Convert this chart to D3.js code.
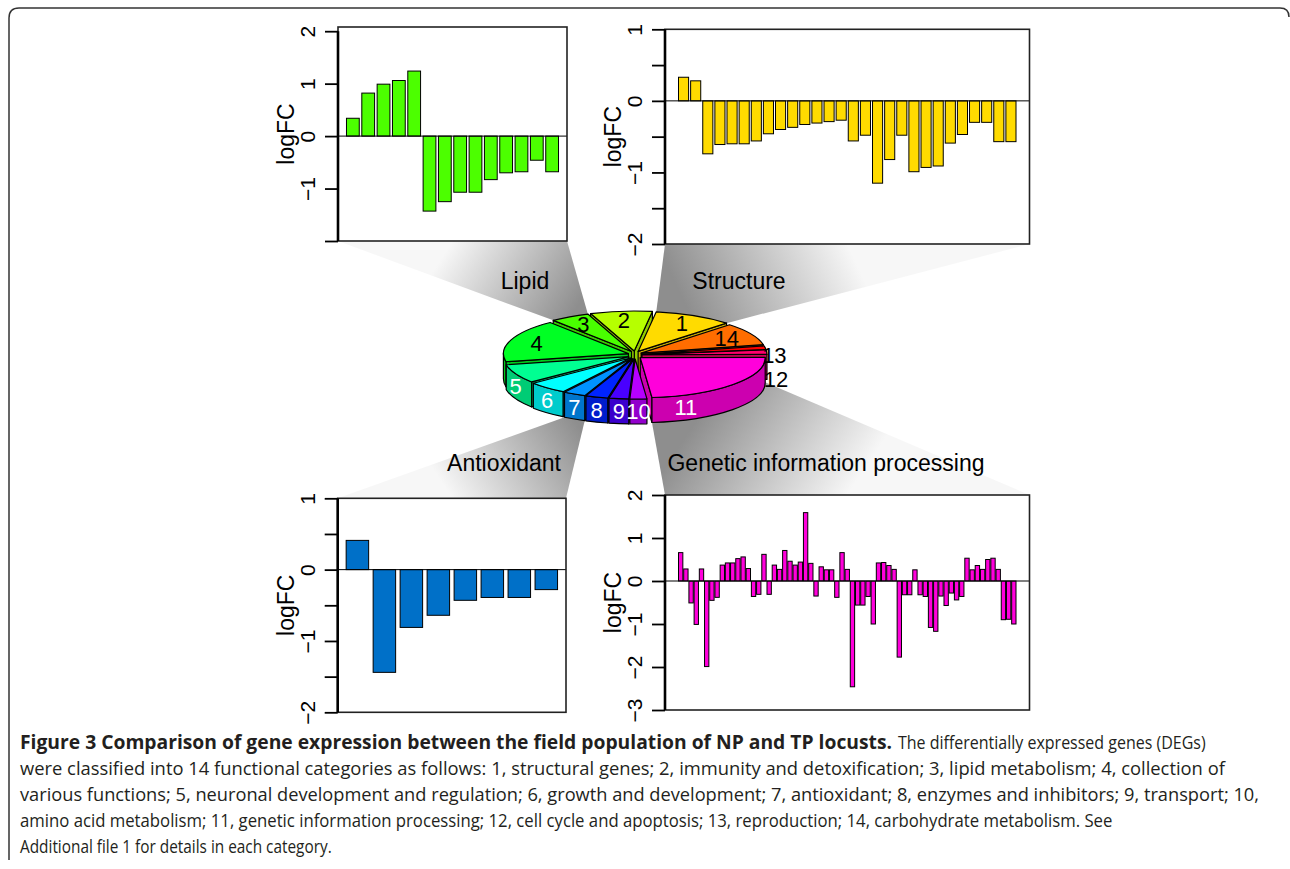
<!DOCTYPE html>
<html>
<head>
<meta charset="utf-8">
<script src="https://cdn.jsdelivr.net/npm/d3@7"></script>
<style>
  body { margin: 0; background: #fff; }
  svg text { font-family: "Liberation Sans", Arial, Helvetica, sans-serif; }
  svg text.cap { font-family: "Open Sans", "Liberation Sans", sans-serif; }
</style>
</head>
<body>
<svg id="fig" width="1290" height="869"></svg>
<script>
// logFC of the DEGs in each highlighted category
const lipidLogFC = [0.34, 0.82, 0.99, 1.06, 1.24, -1.43, -1.25, -1.07, -1.07, -0.83, -0.70, -0.68, -0.46, -0.68];
const structureLogFC = [0.33, 0.28, -0.74, -0.61, -0.60, -0.60, -0.56, -0.46, -0.40, -0.37, -0.33, -0.31, -0.29, -0.27,
  -0.56, -0.48, -1.15, -0.82, -0.48, -0.99, -0.93, -0.91, -0.59, -0.47, -0.30, -0.30, -0.57, -0.57];
const antioxidantLogFC = [0.41, -1.44, -0.81, -0.64, -0.43, -0.39, -0.39, -0.28];
const geneticLogFC = [0.66, 0.28, -0.51, -1.01, 0.28, -1.99, -0.45, -0.38, 0.37, 0.42,
  0.42, 0.52, 0.56, 0.29, -0.36, -0.31, 0.62, -0.31, 0.37, 0.27,
  0.71, 0.46, 0.37, 0.44, 1.59, 0.41, -0.35, 0.33, 0.26, 0.26,
  -0.38, 0.66, 0.27, -2.46, -0.56, -0.56, -0.36, -1.00, 0.42, 0.43,
  0.36, 0.27, -1.77, -0.32, -0.32, 0.26, -0.32, -0.36, -1.08, -1.17,
  -0.35, -0.57, -0.28, -0.44, -0.36, 0.53, 0.26, 0.36, 0.27, 0.50,
  0.53, 0.27, -0.90, -0.89, -1.00];

// pie: 14 functional categories
const categories = ["1", "2", "3", "4", "5", "6", "7", "8", "9", "10", "11", "12", "13", "14"];
const categoryCounts = [28, 22, 14, 48, 21, 14, 8, 8, 7, 6, 65, 5, 4, 25];
const categoryColors = ["#FFDB00", "#B6FF00", "#49FF00", "#00FF24", "#00FF92", "#00FFFF", "#0092FF",
  "#0024FF", "#4900FF", "#B600FF", "#FF00DB", "#FF006D", "#FF0000", "#FF6D00"];

// axis ticks
const lipidTicks = [-2, -1, 0, 1, 2];
const lipidTickLabels = ["", "\u22121", "0", "1", "2"];
const halfTicks = [-2, -1.5, -1, -0.5, 0, 0.5, 1];
const halfTickLabels = ["\u22122", "", "\u22121", "", "0", "", "1"];
const geneticTicks = [-3, -2, -1, 0, 1, 2];
const geneticTickLabels = ["\u22123", "\u22122", "\u22121", "0", "1", "2"];

const captionTitle = "Figure 3 Comparison of gene expression between the field population of NP and TP locusts.";
const captionLines = [
  "The differentially expressed genes (DEGs)",
  "were classified into 14 functional categories as follows: 1, structural genes; 2, immunity and detoxification; 3, lipid metabolism; 4, collection of",
  "various functions; 5, neuronal development and regulation; 6, growth and development; 7, antioxidant; 8, enzymes and inhibitors; 9, transport; 10,",
  "amino acid metabolism; 11, genetic information processing; 12, cell cycle and apoptosis; 13, reproduction; 14, carbohydrate metabolism. See",
  "Additional file 1 for details in each category."
];

const svg = d3.select("#fig");
const defs = svg.append("defs");
const gFans = svg.append("g");
const gPanels = svg.append("g");
const gPie = svg.append("g");
const gText = svg.append("g");

// ---- pie geometry (computed first, the fans need it) ----
const pcx = 635, pcy = 355, prx = 125, pry = 40, ph = 25;
const rad = Math.PI / 180;
const start = Math.PI / 2 - 45 * rad;
const pie = d3.pie().sort(null).startAngle(start).endAngle(start - 2 * Math.PI);
const slices = pie(categoryCounts).map((a, i) => {
  const t0 = Math.PI / 2 - a.startAngle, t1 = Math.PI / 2 - a.endAngle, m = (t0 + t1) / 2;
  return {i, t0, t1, m, ox: 7 * Math.cos(m), oy: -4 * Math.sin(m), color: categoryColors[i]};
});
const P = (s, t, dz = 0) => [pcx + s.ox + prx * Math.cos(t), pcy + s.oy - pry * Math.sin(t) + dz];
const C = (s, dz = 0) => [pcx + s.ox, pcy + s.oy + dz];

// ---- bar panels ----
function barPanel(values, color, ticks, tickLabels, yDom, box) {
  const n = values.length;
  const span = n * 1.2 - 0.2;
  const x = d3.scaleLinear().domain([0.2 - 0.04 * span, n * 1.2 + 0.04 * span]).range([box.left, box.right]);
  const y = d3.scaleLinear().domain(yDom).range([box.bottom, box.top]);
  const g = gPanels.append("g");

  g.append("rect").attr("x", box.left).attr("y", box.top)
    .attr("width", box.right - box.left).attr("height", box.bottom - box.top).attr("fill", "#fff");

  g.selectAll("rect.bar").data(values).join("rect").attr("class", "bar")
    .attr("x", (d, i) => x(0.2 + i * 1.2))
    .attr("width", (d, i) => x(1.2 + i * 1.2) - x(0.2 + i * 1.2))
    .attr("y", d => y(Math.max(0, d)))
    .attr("height", d => Math.abs(y(d) - y(0)))
    .attr("fill", color).attr("stroke", "#000").attr("stroke-width", 1);

  g.append("line").attr("x1", box.left).attr("x2", box.right)
    .attr("y1", y(0)).attr("y2", y(0)).attr("stroke", "#000").attr("stroke-width", 1);

  g.append("rect").attr("x", box.left).attr("y", box.top)
    .attr("width", box.right - box.left).attr("height", box.bottom - box.top)
    .attr("fill", "none").attr("stroke", "#222").attr("stroke-width", 1.6);

  const ax = g.append("g").attr("transform", `translate(${box.left},0)`)
    .call(d3.axisLeft(y).tickValues(ticks).tickSize(13).tickSizeOuter(0).tickFormat((d, i) => tickLabels[i]));
  ax.select(".domain").remove();
  ax.selectAll("line").attr("stroke", "#000").attr("stroke-width", 1.8);
  ax.selectAll("text").attr("x", null).attr("dy", null)
    .attr("transform", "translate(-23,0) rotate(-90)")
    .attr("text-anchor", "middle").attr("font-size", 21).attr("fill", "#000");
  ax.append("line").attr("x1", 0).attr("x2", 0)
    .attr("y1", y(d3.min(ticks))).attr("y2", y(d3.max(ticks)))
    .attr("stroke", "#000").attr("stroke-width", 2.6);

  g.append("text")
    .attr("transform", `translate(${box.left - 44},${(box.top + box.bottom) / 2}) rotate(-90)`)
    .attr("text-anchor", "middle").attr("font-size", 23).text("logFC");
  return box;
}

const lipidBox = barPanel(lipidLogFC, "#4CFF00", lipidTicks, lipidTickLabels, [-2, 2.08],
  {left: 338, right: 567, top: 27, bottom: 241});
const structBox = barPanel(structureLogFC, "#FFDB00", halfTicks, halfTickLabels, [-2, 1],
  {left: 665, right: 1029.5, top: 29.3, bottom: 244});
const antiBox = barPanel(antioxidantLogFC, "#0070C8", halfTicks, halfTickLabels, [-2, 1],
  {left: 337.7, right: 566, top: 498.3, bottom: 712.3});
const genBox = barPanel(geneticLogFC, "#FF00DB", geneticTicks, geneticTickLabels, [-3, 2],
  {left: 665, right: 1029.5, top: 495, bottom: 710});

// ---- grey projections from slice to panel ----
function fan(id, pts) {
  const from = [(pts[0][0] + pts[1][0]) / 2, (pts[0][1] + pts[1][1]) / 2];
  const to = [(pts[2][0] + pts[3][0]) / 2, (pts[2][1] + pts[3][1]) / 2];
  const lg = defs.append("linearGradient").attr("id", id).attr("gradientUnits", "userSpaceOnUse")
    .attr("x1", from[0]).attr("y1", from[1]).attr("x2", to[0]).attr("y2", to[1]);
  lg.append("stop").attr("offset", 0).attr("stop-color", "#f7f7f7");
  lg.append("stop").attr("offset", 1).attr("stop-color", "#8e8e8e");
  gFans.append("path").attr("d", d3.line()(pts) + "Z").attr("fill", `url(#${id})`);
}
const s3 = slices[2], s1 = slices[0], s7 = slices[6], s11 = slices[10];
fan("fLipid", [[lipidBox.left, lipidBox.bottom], [lipidBox.right, lipidBox.bottom], P(s3, s3.t0), P(s3, s3.t1)]);
fan("fStruct", [[structBox.left, structBox.bottom], [structBox.right, structBox.bottom], P(s1, s1.t0), P(s1, s1.t1)]);
fan("fAnti", [[antiBox.left, antiBox.top], [antiBox.right, antiBox.top], P(s7, s7.t1, ph), P(s7, s7.t0, ph)]);
fan("fGen", [[genBox.left, genBox.top], [genBox.right, genBox.top], P(s11, s11.t1, ph), P(s11, s11.t0, ph)]);

// ---- 3D pie ----
const fmt = p => p[0].toFixed(2) + "," + p[1].toFixed(2);
const shade = c => { const r = d3.rgb(c); return d3.rgb(r.r * 0.8, r.g * 0.8, r.b * 0.8).formatHex(); };

const walls = [], sides = [];
slices.forEach(s => {
  if (Math.cos(s.t0) > 0) walls.push({s, t: s.t0});
  if (Math.cos(s.t1) < 0) walls.push({s, t: s.t1});
  for (let k = -1; k <= 1; k++) {
    const lo = Math.max(s.t0, Math.PI + 2 * Math.PI * k), hi = Math.min(s.t1, 2 * Math.PI + 2 * Math.PI * k);
    if (hi > lo) sides.push({s, lo, hi});
  }
});
walls.sort((a, b) => P(a.s, a.t)[1] - P(b.s, b.t)[1]);
sides.sort((a, b) => P(a.s, (a.lo + a.hi) / 2)[1] - P(b.s, (b.lo + b.hi) / 2)[1]);

gPie.selectAll("path.wall").data(walls).join("path").attr("class", "wall")
  .attr("d", w => `M${fmt(C(w.s))}L${fmt(P(w.s, w.t))}L${fmt(P(w.s, w.t, ph))}L${fmt(C(w.s, ph))}Z`)
  .attr("fill", w => shade(w.s.color)).attr("stroke", "#000").attr("stroke-width", 1.2).attr("stroke-linejoin", "round");

gPie.selectAll("path.side").data(sides).join("path").attr("class", "side")
  .attr("d", d => `M${fmt(P(d.s, d.lo))}A${prx},${pry} 0 0 0 ${fmt(P(d.s, d.hi))}` +
    `L${fmt(P(d.s, d.hi, ph))}A${prx},${pry} 0 0 1 ${fmt(P(d.s, d.lo, ph))}Z`)
  .attr("fill", d => shade(d.s.color)).attr("stroke", "#000").attr("stroke-width", 1.2).attr("stroke-linejoin", "round");

gPie.selectAll("path.top").data(slices).join("path").attr("class", "top")
  .attr("d", s => `M${fmt(C(s))}L${fmt(P(s, s.t0))}A${prx},${pry} 0 ${s.t1 - s.t0 > Math.PI ? 1 : 0} 0 ${fmt(P(s, s.t1))}Z`)
  .attr("fill", s => s.color).attr("stroke", "#000").attr("stroke-width", 1.2).attr("stroke-linejoin", "round");

// pie labels
let lastOut = -Infinity;
const outside = slices.filter(s => s.t1 - s.t0 < 7 * rad).sort((a, b) => Math.sin(b.m) - Math.sin(a.m));
outside.forEach(s => {
  const p = P(s, s.m);
  let yy = pcy + s.oy - pry * 1.1 * Math.sin(s.m) + 8;
  if (yy < lastOut + 24) yy = lastOut + 24;
  lastOut = yy;
  gPie.append("text").attr("x", p[0] - 3).attr("y", yy).attr("dy", "0.36em")
    .attr("font-size", 22).attr("fill", "#000").text(categories[s.i]);
});
slices.filter(s => s.t1 - s.t0 >= 7 * rad).forEach(s => {
  let x, y, fill;
  if (Math.sin(s.m) < 0) {
    const ta = s.t0 + Math.min((s.t1 - s.t0) / 2, 16 * rad);
    const p = P(s, ta, ph / 2);
    x = p[0]; y = p[1]; fill = "#fff";
  } else {
    x = pcx + s.ox + 0.78 * prx * Math.cos(s.m);
    y = pcy + s.oy - 0.78 * pry * Math.sin(s.m);
    fill = "#000";
  }
  gPie.append("text").attr("x", x).attr("y", y).attr("dy", "0.36em").attr("text-anchor", "middle")
    .attr("font-size", 22).attr("fill", fill).text(categories[s.i]);
});

// ---- panel titles ----
[["Lipid", 525, 289], ["Structure", 739, 289], ["Antioxidant", 504, 471], ["Genetic information processing", 826, 471]]
  .forEach(t => gText.append("text").attr("x", t[1]).attr("y", t[2]).attr("text-anchor", "middle")
    .attr("font-size", 23).attr("fill", "#000").text(t[0]));

// ---- caption (condensed by scaling each line to its width) ----
function capLine(str, x, y, width, bold) {
  const t = gText.append("text").attr("class", "cap").attr("font-size", 19).attr("fill", "#231f20")
    .attr("font-weight", bold ? "bold" : null).text(str);
  const natural = t.node().getComputedTextLength();
  t.attr("transform", `translate(${x},${y}) scale(${width / natural},1)`);
}
capLine(captionTitle, 20, 749, 873, true);
capLine(captionLines[0], 898, 749, 308, false);
const capWidths = [1206, 1240, 1093, 312];
captionLines.slice(1).forEach((line, i) => capLine(line, 20, 775 + i * 26, capWidths[i], false));

// ---- figure frame ----
svg.append("path").attr("d", "M9,860 L9,18 Q9,8 19,8 L1280,8 Q1289,8 1289,17")
  .attr("fill", "none").attr("stroke", "#333").attr("stroke-width", 1.5);
</script>
</body>
</html>
